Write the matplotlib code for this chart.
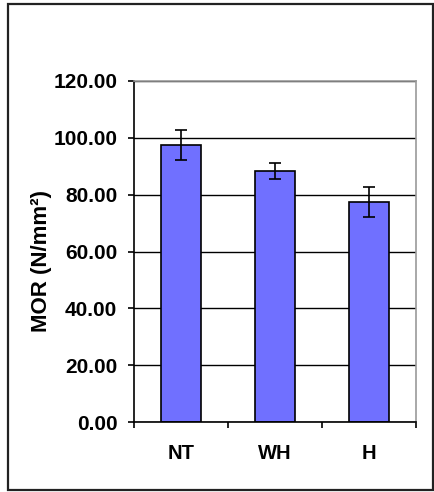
import matplotlib
matplotlib.use("Agg")
import matplotlib.pyplot as plt
from matplotlib.patches import Rectangle
from matplotlib.ticker import FixedLocator, NullFormatter

categories = ["NT", "WH", "H"]
mor_mean = [97.4, 88.4, 77.3]
mor_err = [5.2, 2.8, 5.3]
y_ticks = [0, 20, 40, 60, 80, 100, 120]

W, H = 435, 492
fig = plt.figure(figsize=(W / 100, H / 100), dpi=100)
plt.rcParams["font.family"] = ["Liberation Sans", "DejaVu Sans"]

# outer chart border
fig.patches.append(Rectangle((8 / W, 2 / H), 425 / W, 486 / H,
                             transform=fig.transFigure, fill=False,
                             edgecolor="#222222", linewidth=1.6))

ax = fig.add_axes([134 / W, 1 - 422 / H, 282 / W, 341 / H])
x = list(range(len(categories)))

ax.yaxis.grid(True, color="black", linewidth=1.0, zorder=0)
ax.set_axisbelow(True)
ax.bar(x, mor_mean, width=0.42, color="#7070FF", edgecolor="black",
       linewidth=1.2, zorder=2)
ax.errorbar(x, mor_mean, yerr=mor_err, fmt="none", ecolor="black",
            elinewidth=1.2, capsize=4, capthick=1.2, zorder=3)

ax.set_xlim(-0.5, len(categories) - 0.5)
ax.set_ylim(0, 120)
ax.set_yticks(y_ticks)
ax.set_yticklabels([f"{v:.2f}" for v in y_ticks])
ax.set_xticks(x)
ax.set_xticklabels(categories)
ax.xaxis.set_minor_locator(FixedLocator([i - 0.5 for i in range(len(categories) + 1)]))
ax.xaxis.set_minor_formatter(NullFormatter())

ax.tick_params(axis="x", which="major", length=0, pad=16, labelsize=14.5)
ax.tick_params(axis="x", which="minor", length=4.5, width=1.2, direction="out")
ax.tick_params(axis="y", length=4.5, width=1.2, direction="out", pad=7.5,
               labelsize=15)
for lab in ax.get_xticklabels() + ax.get_yticklabels():
    lab.set_fontweight("bold")

for side in ("left", "bottom"):
    ax.spines[side].set_color("black")
    ax.spines[side].set_linewidth(1.2)
for side in ("top", "right"):
    ax.spines[side].set_color("#999999")
    ax.spines[side].set_linewidth(1.2)

ax.set_ylabel("MOR (N/mm²)", fontsize=16, fontweight="bold")
ax.yaxis.set_label_coords(-0.29, 0.472)

fig.savefig("out.png", dpi=100)
